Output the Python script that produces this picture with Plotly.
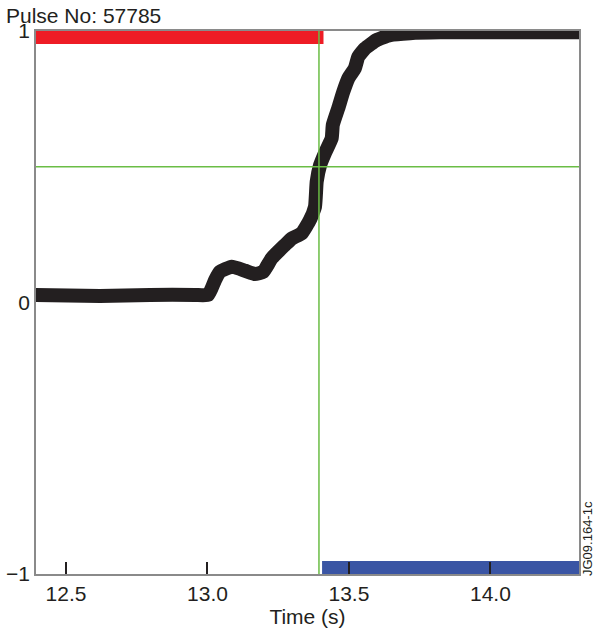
import plotly.graph_objects as go

# Data
time_s = [12.35, 12.394, 12.62, 12.797, 12.956, 13.003, 13.027, 13.044, 13.086, 13.133,
          13.168, 13.197, 13.227, 13.274, 13.298, 13.333, 13.362, 13.380, 13.386, 13.398,
          13.415, 13.439, 13.443, 13.462, 13.480, 13.498, 13.521, 13.533, 13.557, 13.598,
          13.645, 13.716, 13.822, 14.0, 14.35]
signal = [0.028, 0.028, 0.024, 0.028, 0.028, 0.028, 0.083, 0.113, 0.132, 0.117,
          0.105, 0.113, 0.163, 0.212, 0.236, 0.255, 0.304, 0.353, 0.445, 0.506,
          0.550, 0.605, 0.654, 0.715, 0.776, 0.826, 0.863, 0.905, 0.936, 0.967,
          0.985, 0.992, 0.995, 0.995, 0.995]

red_t = [12.30, 13.41]
red_v = [1, 1]
blue_t = [13.405, 14.40]
blue_v = [-1, -1]

cross_t = 13.394
cross_v = 0.5

x_range = [12.394, 14.313]
y_range = [-1, 1]
x_ticks = [12.5, 13.0, 13.5, 14.0]
y_ticks = [-1, 0, 1]

FONT = "Liberation Sans, Arial, sans-serif"

fig = go.Figure()
fig.add_trace(go.Scatter(x=red_t, y=red_v, mode="lines",
                         line=dict(color="#ee1c25", width=26), hoverinfo="skip"))
fig.add_trace(go.Scatter(x=blue_t, y=blue_v, mode="lines",
                         line=dict(color="#3a55a4", width=26), hoverinfo="skip"))
fig.add_trace(go.Scatter(x=time_s, y=signal, mode="lines",
                         line=dict(color="#231f20", width=14, shape="spline", smoothing=0.4),
                         hoverinfo="skip"))

fig.add_shape(type="line", xref="x", yref="paper", x0=cross_t, x1=cross_t, y0=0, y1=1,
              line=dict(color="#6abd45", width=1.5))
fig.add_shape(type="line", xref="paper", yref="y", x0=0, x1=1, y0=cross_v, y1=cross_v,
              line=dict(color="#6abd45", width=1.5))

fig.update_layout(
    width=594, height=630,
    margin=dict(l=36, r=15, t=31, b=56),
    paper_bgcolor="white", plot_bgcolor="white",
    showlegend=False,
    font=dict(family=FONT, size=21, color="#231f20"),
    xaxis=dict(range=x_range, tickvals=x_ticks, tickformat=".1f", automargin=False,
               ticks="inside", ticklen=12, tickwidth=1.5, tickcolor="#231f20",
               showline=True, linecolor="#8a8a8a", linewidth=1.5, mirror=True,
               showgrid=False, zeroline=False, tickfont=dict(size=21),
               ticklabelstandoff=0,
               title=dict(text="Time (s)", standoff=0, font=dict(size=21))),
    yaxis=dict(range=y_range, tickvals=y_ticks, ticks="", automargin=False,
               showline=True, linecolor="#8a8a8a", linewidth=1.5, mirror=True,
               showgrid=False, zeroline=False, ticklabelstandoff=0,
               tickfont=dict(size=21)),
)

fig.add_annotation(text="Pulse No: 57785", xref="paper", yref="paper",
                   x=0.0, y=1.0, xanchor="left", yanchor="bottom", xshift=-31, yshift=3,
                   borderpad=0,
                   showarrow=False, font=dict(size=21, family=FONT, color="#231f20"))
fig.add_annotation(text="JG09.164-1c", xref="paper", yref="paper",
                   x=1.0, y=0.0, xanchor="left", yanchor="bottom", xshift=-1, yshift=-4,
                   textangle=-90, showarrow=False,
                   font=dict(size=13, family=FONT, color="#231f20"))

fig.write_html("out.html")
